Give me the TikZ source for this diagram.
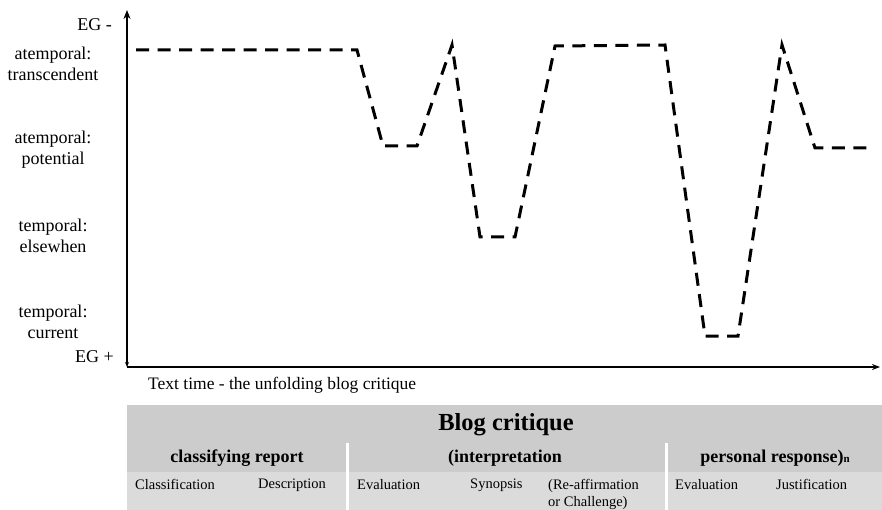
\documentclass[tikz,border=0pt]{standalone}
\usepackage{fontspec}
\setmainfont{Liberation Serif}
\usetikzlibrary{arrows.meta,positioning}
\definecolor{headgray}{gray}{0.80}
\definecolor{rowgray}{gray}{0.86}
\tikzset{
     axis/.style     = {black, line width=1.8pt},
     profile/.style  = {black, line width=3pt, dash pattern=on 13pt off 8.5pt},
     level/.style    = {font=\fontsize{18}{21}\selectfont, align=center, inner sep=0pt},
     egmark/.style   = {font=\fontsize{18}{21}\selectfont, anchor=east, inner sep=0pt},
     head/.style     = {font=\bfseries\fontsize{18}{21}\selectfont, inner sep=0pt},
     cell/.style     = {font=\fontsize{14.5}{17.5}\selectfont, align=left, anchor=north west, inner sep=0pt},
     divider/.style  = {white, line width=3pt},
    }

\begin{document}
\begin{tikzpicture}[x=1pt, y=-1pt, node distance=86pt, on grid]
            \useasboundingbox (0,0) rectangle (882,510);

            % axes
            \coordinate (origin) at (127,367);
            \coordinate (ytop)   at (127,10);
            \coordinate (xend)   at (880,367);
            \draw [axis, {Stealth[length=5pt,width=4pt]}-{Stealth[length=9pt,width=7pt]}] (origin) -- (ytop);
            \draw [axis, -{Stealth[length=8pt,width=6pt]}] (origin) -- (xend);

            % scale of the vertical axis
            \node [egmark] (egminus) at (112,25)  {EG -};
            \node [egmark] (egplus)  at (114,357) {EG +};
            \node [level] (trans) at (53,64)       {atemporal:\\transcendent};
            \node [level] (pot)   [below of=trans]  {atemporal:\\potential};
            \node [level] (else)  [below of=pot]    {temporal:\\elsewhen};
            \node [level] (curr)  [below of=else]   {temporal:\\current};

            \node [font=\fontsize{17.5}{20}\selectfont, anchor=base west, inner sep=0pt]
                  (texttime) at (148,389) {Text time - the unfolding blog critique};

            % the profile
            \coordinate (p1)  at (136,50);
            \coordinate (p2)  at (357,50);
            \coordinate (p3)  at (383,146);
            \coordinate (p4)  at (417,146);
            \coordinate (p5)  at (452,45);
            \coordinate (p6)  at (480,237);
            \coordinate (p7)  at (515,237);
            \coordinate (p8)  at (555,46);
            \coordinate (p9)  at (665,45);
            \coordinate (p10) at (705,336);
            \coordinate (p11) at (738,336);
            \coordinate (p12) at (782,45);
            \coordinate (p13) at (815,148);
            \coordinate (p14) at (872,148);
            \draw [profile] (p1) -- (p2) -- (p3) -- (p4) -- (p5) -- (p6) -- (p7)
                  -- (p8) -- (p9) -- (p10) -- (p11) -- (p12) -- (p13) -- (p14);

            % stages of the genre
            \fill [headgray] (127,405) rectangle (882,472);
            \fill [rowgray]  (127,472) rectangle (882,510);
            \draw [divider] (347,443) -- (347,510);
            \draw [divider] (666,443) -- (666,510);

            \node [font=\bfseries\fontsize{24.5}{28}\selectfont, inner sep=0pt] (blog) at (506,425) {Blog critique};
            \node [head] (classrep) at (237,458) {classifying report};
            \node [head] (interp)   at (505,458) {(interpretation};
            \node [head] (personal) at (775,458) {personal response)\fontsize{11}{11}\selectfont n};

            \node [cell] (classif)  at (135,479) {Classification};
            \node [cell] (descr)    at (258,479) {Description};
            \node [cell] (evalone)  at (357,479) {Evaluation};
            \node [cell] (synop)    at (470,479) {Synopsis};
            \node [cell] (reaff)    at (548,479) {(Re-affirmation\\or Challenge)};
            \node [cell] (evaltwo)  at (675,479) {Evaluation};
            \node [cell] (justif)   at (776,479) {Justification};
      \end{tikzpicture}
\end{document}
